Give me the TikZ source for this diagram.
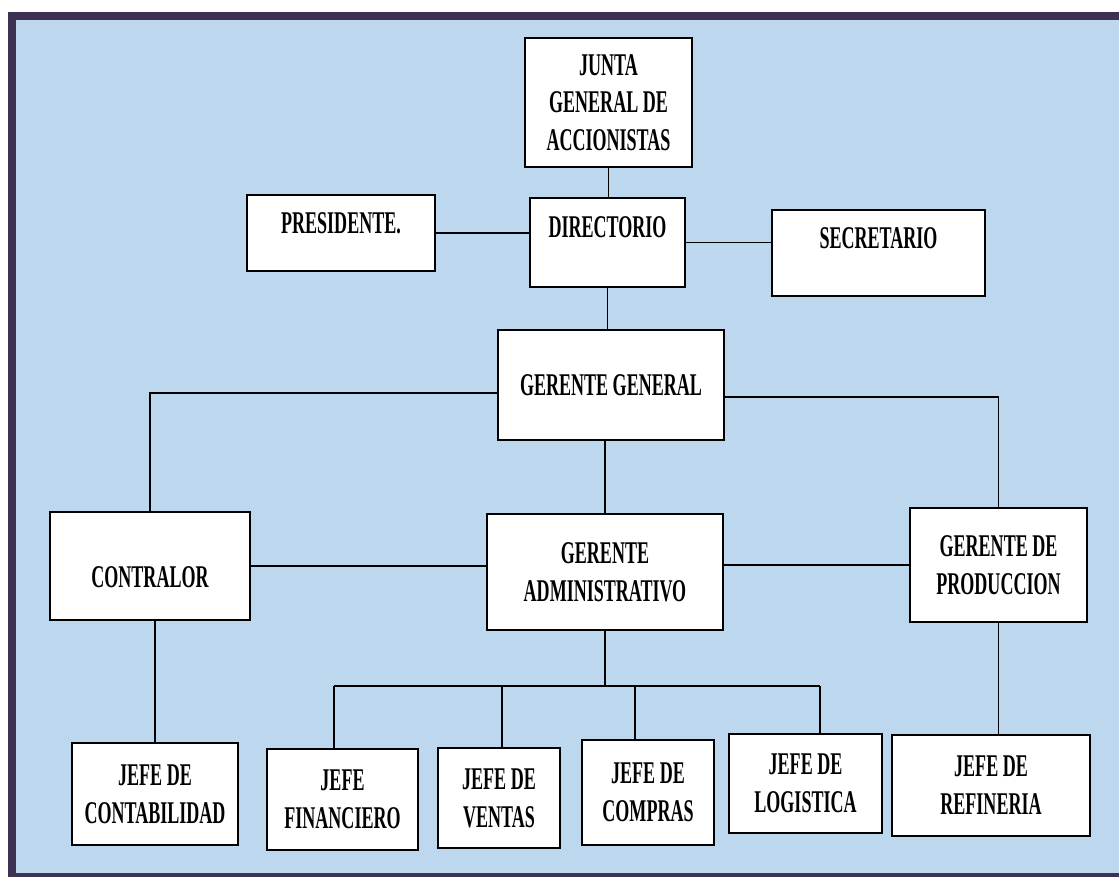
\documentclass[tikz,border=0pt]{standalone}
\usepackage{fontspec}
\newfontfamily\orgfont[FakeStretch=0.57]{Liberation Serif}
\usetikzlibrary{positioning}
\definecolor{frameband}{HTML}{3F3151}
\definecolor{chartbg}{HTML}{BDD7EE}
\tikzset{
  box/.style={draw=black, fill=white, line width=1.1pt, align=center, inner sep=2pt,
    font={\orgfont\bfseries\fontsize{18}{21.5}\selectfont}},
  sz/.style 2 args={minimum width=#1*0.02cm, minimum height=#2*0.02cm},
  link/.style={line width=1.1pt}
}

\begin{document}
\begin{tikzpicture}[x=0.02cm, y=-0.02cm]
        % Background and frame
        \fill[white] (0,0) rectangle (1119,877);
        \fill[frameband] (8,12) rectangle (1119,877);
        \fill[chartbg] (16,20) rectangle (1119,873);
        % Define nodes
        \node[box, sz={167}{129}] (junta) at (608.5,102.5) {JUNTA\\GENERAL DE\\ACCIONISTAS};
        \node[box, sz={155}{89}, text height=0.42cm, text depth=0.64cm] (dir) at (607.5,242.5) {DIRECTORIO};
        \node[box, sz={188}{76}, text height=0.42cm, text depth=0.4cm] (pres) at (341,233) {PRESIDENTE.};
        \node[box, sz={213}{86}, text height=0.42cm, text depth=0.6cm] (sec) at (878.5,253) {SECRETARIO};
        \node[box, sz={226}{110}] (gg) at (611,385) {GERENTE GENERAL};
        \node[box, sz={200}{108}, text height=0.86cm, text depth=0cm] (contr) at (150,566) {CONTRALOR};
        \node[box, sz={236}{116}] (ga) at (605,572) {GERENTE\\ADMINISTRATIVO};
        \node[box, sz={177}{114}] (gp) at (998.5,565) {GERENTE DE\\PRODUCCION};
        \node[box, sz={166}{102}] (jc) at (155,794) {JEFE DE\\CONTABILIDAD};
        \node[box, sz={151}{101}] (jf) at (342.5,799.5) {JEFE\\FINANCIERO};
        \node[box, sz={122}{100}] (jv) at (499,798) {JEFE DE\\VENTAS};
        \node[box, sz={132}{105}] (jco) at (648,792.5) {JEFE DE\\COMPRAS};
        \node[box, sz={153}{99}] (jl) at (805.5,783.5) {JEFE DE\\LOGISTICA};
        \node[box, sz={198}{101}] (jr) at (991,785.5) {JEFE DE\\REFINERIA};
        % Bus points
        \coordinate (busmid) at (605,686);
        \coordinate (b1) at (334,686);
        \coordinate (b2) at (502,686);
        \coordinate (b3) at (635,686);
        \coordinate (b4) at (820,686);
        % Connect nodes
        \draw[link] (junta.south) -- (junta.south |- dir.north);
        \draw[link] (pres.east) -- (pres.east -| dir.west);
        \draw[link] (dir.east) -- (dir.east -| sec.west);
        \draw[link] (dir.south) -- (dir.south |- gg.north);
        \draw[link] ([yshift=-0.16cm]gg.west) -| (contr.north);
        \draw[link] ([yshift=-0.24cm]gg.east) -| (gp.north);
        \draw[link] (ga.north |- gg.south) -- (ga.north);
        \draw[link] (contr.east) -- (contr.east -| ga.west);
        \draw[link] (gp.west) -- (gp.west -| ga.east);
        \draw[link] (ga.south) -- (busmid);
        \draw[link] (b1) -- (b4);
        \draw[link] (b1) -- (b1 |- jf.north);
        \draw[link] (b2) -- (b2 |- jv.north);
        \draw[link] (b3) -- (b3 |- jco.north);
        \draw[link] (b4) -- (b4 |- jl.north);
        \draw[link] (jc.north |- contr.south) -- (jc.north);
        \draw[link] (gp.south) -- (gp.south |- jr.north);
    \end{tikzpicture}
\end{document}
